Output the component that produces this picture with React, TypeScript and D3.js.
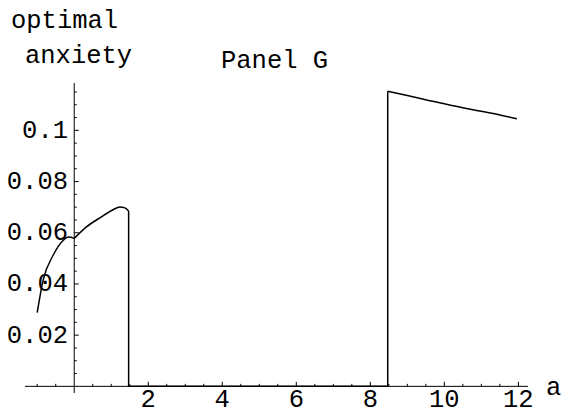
import React from 'react';
import * as d3 from 'd3';

const width = 565;
const height = 413;

// left branch, up to the kink at a = 0 (a, optimal anxiety)
const branch1A = [-1.0, -0.84, -0.57, -0.3, -0.15, 0];
const branch1Y = [0.0288, 0.0415, 0.0512, 0.057, 0.0583, 0.0578];

// rising part after the kink, up to the first jump
const branch2A = [0, 0.33, 0.69, 1.05, 1.23, 1.37, 1.47];
const branch2Y = [0.0578, 0.0623, 0.0658, 0.069, 0.0701, 0.0697, 0.0685];

// flat part at zero between the two jumps
const zeroA = [1.47, 8.47];

// right branch
const branch3A = [8.47, 9.0, 9.52, 10.2, 10.87, 11.5, 11.96];
const branch3Y = [0.1153, 0.1136, 0.1119, 0.1097, 0.1078, 0.106, 0.1045];

const xTicks = [2, 4, 6, 8, 10, 12];
const yTicks = [0.02, 0.04, 0.06, 0.08, 0.1];
const yTickLabels = ['0.02', '0.04', '0.06', '0.08', '0.1'];

const font = '"Liberation Mono", "Courier New", monospace';
const fontSize = 25.5;

const App = () => {
  const x = d3.scaleLinear().domain([-1.33, 12.26]).range([25, 528]);
  const y = d3.scaleLinear().domain([-0.0026, 0.1185]).range([393, 83]);

  const smooth = d3.line<[number, number]>()
    .x(d => x(d[0]))
    .y(d => y(d[1]))
    .curve(d3.curveMonotoneX);
  const straight = d3.line<[number, number]>()
    .x(d => x(d[0]))
    .y(d => y(d[1]));

  const pts = (as: number[], ys: number[]) => as.map((a, i) => [a, ys[i]] as [number, number]);
  const b1 = pts(branch1A, branch1Y);
  const b2 = pts(branch2A, branch2Y);
  const b3 = pts(branch3A, branch3Y);
  const jumps: [number, number][] = [
    b2[b2.length - 1],
    [zeroA[0], 0],
    [zeroA[1], 0],
    b3[0],
  ];

  const xMinor = d3.range(-1, 12.01, 0.5).filter(v => Math.abs(v % 2) > 1e-9 && Math.abs(v) > 1e-9);
  const yMinor = d3.range(0.005, 0.1151, 0.005).filter(v => !yTicks.some(t => Math.abs(t - v) < 1e-9));

  const x0 = x(0);
  const y0 = y(0);

  return (
    <svg width={width} height={height} style={{ position: 'absolute', left: 0, top: 0, background: '#fff' }}>
      {/* axes */}
      <line x1={x(-1.33)} x2={x(12.26)} y1={y0} y2={y0} stroke="#000" strokeWidth={1} />
      <line x1={x0} x2={x0} y1={y(-0.0026)} y2={y(0.1185)} stroke="#000" strokeWidth={1} />

      {xTicks.map(t => (
        <g key={'xt' + t}>
          <line x1={x(t)} x2={x(t)} y1={y0} y2={y0 - 4.5} stroke="#000" />
          <text x={x(t)} y={406.5} textAnchor="middle" fontFamily={font} fontSize={fontSize}>{t}</text>
        </g>
      ))}
      {xMinor.map(t => (
        <line key={'xm' + t} x1={x(t)} x2={x(t)} y1={y0} y2={y0 - 2.5} stroke="#000" />
      ))}
      {yTicks.map((t, i) => (
        <g key={'yt' + t}>
          <line x1={x0} x2={x0 + 4.5} y1={y(t)} y2={y(t)} stroke="#000" />
          <text x={68} y={y(t) + 7.5} textAnchor="end" fontFamily={font} fontSize={fontSize}>{yTickLabels[i]}</text>
        </g>
      ))}
      {yMinor.map(t => (
        <line key={'ym' + t} x1={x0} x2={x0 + 2.5} y1={y(t)} y2={y(t)} stroke="#000" />
      ))}

      {/* curve */}
      <path d={smooth(b1) || ''} fill="none" stroke="#000" strokeWidth={1.5} />
      <path d={smooth(b2) || ''} fill="none" stroke="#000" strokeWidth={1.5} />
      <path d={straight(jumps) || ''} fill="none" stroke="#000" strokeWidth={1.5} />
      <path d={smooth(b3) || ''} fill="none" stroke="#000" strokeWidth={1.5} />

      {/* labels */}
      <text x={11} y={28} fontFamily={font} fontSize={fontSize}>optimal</text>
      <text x={25} y={63} fontFamily={font} fontSize={fontSize}>anxiety</text>
      <text x={221} y={68} fontFamily={font} fontSize={fontSize}>Panel G</text>
      <text x={546} y={395} fontFamily={font} fontSize={fontSize}>a</text>
    </svg>
  );
};

export default App;
